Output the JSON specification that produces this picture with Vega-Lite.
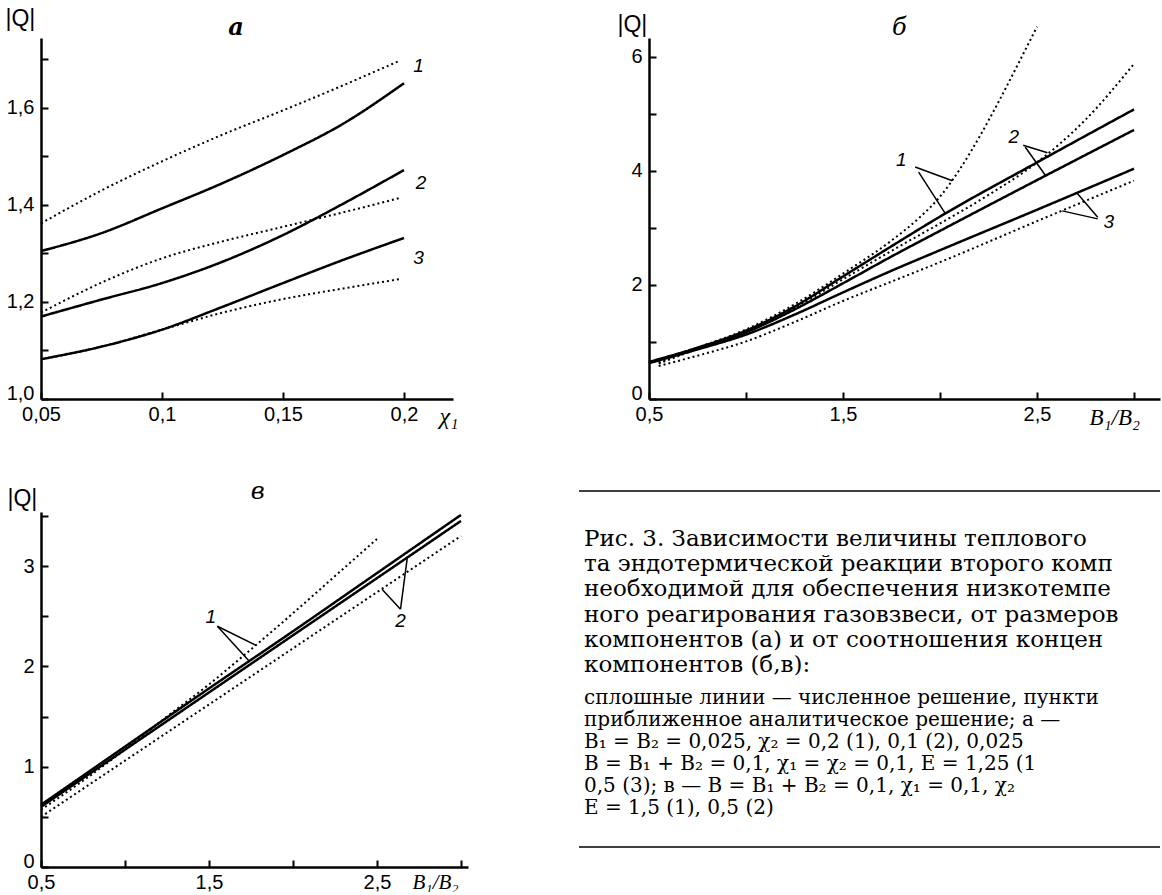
{
  "$schema": "https://vega.github.io/schema/vega-lite/v6.json",
  "autosize": {"type": "pad"},
  "padding": {"left": 5, "top": 7, "right": 0, "bottom": 0},
  "background": "white",
  "config": {
    "view": {"stroke": null},
    "axis": {
      "domainColor": "black", "domainWidth": 2.5, "tickColor": "black", "tickWidth": 2,
      "tickSize": -7, "labelPadding": 14, "labelFont": "Liberation Sans", "labelFontSize": 20,
      "labelColor": "black", "grid": false, "labelFlush": false, "labelOverlap": false, "labelBound": false,
      "titleColor": "black", "titleAngle": 0, "titleFontWeight": "normal"
    },
    "axisX": {"labelPadding": 12}
  },
  "datasets": {
    "curves_a": [
      {"id": "1s", "kind": "solid", "x": 0.05, "q": 1.305}, {"id": "1s", "kind": "solid", "x": 0.075, "q": 1.342}, {"id": "1s", "kind": "solid", "x": 0.1, "q": 1.393}, {"id": "1s", "kind": "solid", "x": 0.125, "q": 1.445}, {"id": "1s", "kind": "solid", "x": 0.15, "q": 1.503}, {"id": "1s", "kind": "solid", "x": 0.175, "q": 1.568}, {"id": "1s", "kind": "solid", "x": 0.2, "q": 1.651},
      {"id": "1d", "kind": "dotted", "x": 0.05, "q": 1.362}, {"id": "1d", "kind": "dotted", "x": 0.075, "q": 1.43}, {"id": "1d", "kind": "dotted", "x": 0.1, "q": 1.49}, {"id": "1d", "kind": "dotted", "x": 0.125, "q": 1.545}, {"id": "1d", "kind": "dotted", "x": 0.15, "q": 1.595}, {"id": "1d", "kind": "dotted", "x": 0.175, "q": 1.647}, {"id": "1d", "kind": "dotted", "x": 0.198, "q": 1.697},
      {"id": "2s", "kind": "solid", "x": 0.05, "q": 1.17}, {"id": "2s", "kind": "solid", "x": 0.075, "q": 1.205}, {"id": "2s", "kind": "solid", "x": 0.1, "q": 1.239}, {"id": "2s", "kind": "solid", "x": 0.125, "q": 1.283}, {"id": "2s", "kind": "solid", "x": 0.15, "q": 1.338}, {"id": "2s", "kind": "solid", "x": 0.175, "q": 1.403}, {"id": "2s", "kind": "solid", "x": 0.2, "q": 1.472},
      {"id": "2d", "kind": "dotted", "x": 0.05, "q": 1.178}, {"id": "2d", "kind": "dotted", "x": 0.075, "q": 1.24}, {"id": "2d", "kind": "dotted", "x": 0.1, "q": 1.29}, {"id": "2d", "kind": "dotted", "x": 0.125, "q": 1.325}, {"id": "2d", "kind": "dotted", "x": 0.15, "q": 1.355}, {"id": "2d", "kind": "dotted", "x": 0.175, "q": 1.385}, {"id": "2d", "kind": "dotted", "x": 0.198, "q": 1.414},
      {"id": "3s", "kind": "solid", "x": 0.05, "q": 1.082}, {"id": "3s", "kind": "solid", "x": 0.075, "q": 1.108}, {"id": "3s", "kind": "solid", "x": 0.1, "q": 1.143}, {"id": "3s", "kind": "solid", "x": 0.125, "q": 1.19}, {"id": "3s", "kind": "solid", "x": 0.15, "q": 1.239}, {"id": "3s", "kind": "solid", "x": 0.175, "q": 1.287}, {"id": "3s", "kind": "solid", "x": 0.2, "q": 1.332},
      {"id": "3d", "kind": "dotted", "x": 0.05, "q": 1.082}, {"id": "3d", "kind": "dotted", "x": 0.075, "q": 1.108}, {"id": "3d", "kind": "dotted", "x": 0.1, "q": 1.143}, {"id": "3d", "kind": "dotted", "x": 0.125, "q": 1.178}, {"id": "3d", "kind": "dotted", "x": 0.15, "q": 1.206}, {"id": "3d", "kind": "dotted", "x": 0.175, "q": 1.228}, {"id": "3d", "kind": "dotted", "x": 0.198, "q": 1.247}
    ],
    "labels_a": [
      {"x": 0.206, "q": 1.687, "t": "1"}, {"x": 0.207, "q": 1.445, "t": "2"}, {"x": 0.206, "q": 1.291, "t": "3"}
    ],
    "letter_a": [{"x": 0.1306, "q": 1.765, "t": "а"}],
    "curves_b": [
      {"id": "1s", "kind": "solid", "x": 0.5, "q": 0.65}, {"id": "1s", "kind": "solid", "x": 0.75, "q": 0.9}, {"id": "1s", "kind": "solid", "x": 1.0, "q": 1.2}, {"id": "1s", "kind": "solid", "x": 1.25, "q": 1.62}, {"id": "1s", "kind": "solid", "x": 1.5, "q": 2.15}, {"id": "1s", "kind": "solid", "x": 1.75, "q": 2.68}, {"id": "1s", "kind": "solid", "x": 2.0, "q": 3.2}, {"id": "1s", "kind": "solid", "x": 2.5, "q": 4.15}, {"id": "1s", "kind": "solid", "x": 3.0, "q": 5.08},
      {"id": "2s", "kind": "solid", "x": 0.5, "q": 0.64}, {"id": "2s", "kind": "solid", "x": 0.75, "q": 0.89}, {"id": "2s", "kind": "solid", "x": 1.0, "q": 1.17}, {"id": "2s", "kind": "solid", "x": 1.25, "q": 1.57}, {"id": "2s", "kind": "solid", "x": 1.5, "q": 2.03}, {"id": "2s", "kind": "solid", "x": 1.75, "q": 2.5}, {"id": "2s", "kind": "solid", "x": 2.0, "q": 2.95}, {"id": "2s", "kind": "solid", "x": 2.5, "q": 3.84}, {"id": "2s", "kind": "solid", "x": 3.0, "q": 4.72},
      {"id": "3s", "kind": "solid", "x": 0.5, "q": 0.63}, {"id": "3s", "kind": "solid", "x": 0.75, "q": 0.87}, {"id": "3s", "kind": "solid", "x": 1.0, "q": 1.13}, {"id": "3s", "kind": "solid", "x": 1.25, "q": 1.48}, {"id": "3s", "kind": "solid", "x": 1.5, "q": 1.87}, {"id": "3s", "kind": "solid", "x": 1.75, "q": 2.25}, {"id": "3s", "kind": "solid", "x": 2.0, "q": 2.61}, {"id": "3s", "kind": "solid", "x": 2.5, "q": 3.32}, {"id": "3s", "kind": "solid", "x": 3.0, "q": 4.04},
      {"id": "1d", "kind": "dotted", "x": 0.55, "q": 0.64}, {"id": "1d", "kind": "dotted", "x": 0.75, "q": 0.9}, {"id": "1d", "kind": "dotted", "x": 1.0, "q": 1.22}, {"id": "1d", "kind": "dotted", "x": 1.25, "q": 1.66}, {"id": "1d", "kind": "dotted", "x": 1.5, "q": 2.2}, {"id": "1d", "kind": "dotted", "x": 1.75, "q": 2.78}, {"id": "1d", "kind": "dotted", "x": 1.9, "q": 3.2}, {"id": "1d", "kind": "dotted", "x": 2.0, "q": 3.55}, {"id": "1d", "kind": "dotted", "x": 2.1, "q": 4.02}, {"id": "1d", "kind": "dotted", "x": 2.2, "q": 4.58}, {"id": "1d", "kind": "dotted", "x": 2.3, "q": 5.2}, {"id": "1d", "kind": "dotted", "x": 2.4, "q": 5.86}, {"id": "1d", "kind": "dotted", "x": 2.5, "q": 6.53},
      {"id": "2d", "kind": "dotted", "x": 0.55, "q": 0.62}, {"id": "2d", "kind": "dotted", "x": 0.75, "q": 0.88}, {"id": "2d", "kind": "dotted", "x": 1.0, "q": 1.19}, {"id": "2d", "kind": "dotted", "x": 1.25, "q": 1.6}, {"id": "2d", "kind": "dotted", "x": 1.5, "q": 2.1}, {"id": "2d", "kind": "dotted", "x": 1.75, "q": 2.6}, {"id": "2d", "kind": "dotted", "x": 2.0, "q": 3.08}, {"id": "2d", "kind": "dotted", "x": 2.25, "q": 3.58}, {"id": "2d", "kind": "dotted", "x": 2.5, "q": 4.15}, {"id": "2d", "kind": "dotted", "x": 2.75, "q": 4.9}, {"id": "2d", "kind": "dotted", "x": 3.0, "q": 5.88},
      {"id": "3d", "kind": "dotted", "x": 0.55, "q": 0.58}, {"id": "3d", "kind": "dotted", "x": 0.75, "q": 0.76}, {"id": "3d", "kind": "dotted", "x": 1.0, "q": 1.01}, {"id": "3d", "kind": "dotted", "x": 1.25, "q": 1.35}, {"id": "3d", "kind": "dotted", "x": 1.5, "q": 1.72}, {"id": "3d", "kind": "dotted", "x": 1.75, "q": 2.06}, {"id": "3d", "kind": "dotted", "x": 2.0, "q": 2.4}, {"id": "3d", "kind": "dotted", "x": 2.5, "q": 3.12}, {"id": "3d", "kind": "dotted", "x": 3.0, "q": 3.83}
    ],
    "labels_b": [
      {"x": 1.8, "q": 4.19, "t": "1"}, {"x": 2.38, "q": 4.6, "t": "2"}, {"x": 2.87, "q": 3.1, "t": "3"}
    ],
    "letter_b": [{"x": 1.79, "q": 6.5, "t": "б"}],
    "leaders_b": [
      {"x": 1.872, "q": 4.07, "x2": 2.064, "q2": 3.83},
      {"x": 1.89, "q": 3.98, "x2": 2.026, "q2": 3.26},
      {"x": 2.429, "q": 4.45, "x2": 2.554, "q2": 4.32},
      {"x": 2.439, "q": 4.42, "x2": 2.544, "q2": 3.92},
      {"x": 2.813, "q": 3.19, "x2": 2.707, "q2": 3.61},
      {"x": 2.813, "q": 3.16, "x2": 2.63, "q2": 3.3}
    ],
    "curves_c": [
      {"id": "1s", "kind": "solid", "x": 0.5, "q": 0.62}, {"id": "1s", "kind": "solid", "x": 1.0, "q": 1.2}, {"id": "1s", "kind": "solid", "x": 1.5, "q": 1.78}, {"id": "1s", "kind": "solid", "x": 2.0, "q": 2.35}, {"id": "1s", "kind": "solid", "x": 2.5, "q": 2.93}, {"id": "1s", "kind": "solid", "x": 3.0, "q": 3.51},
      {"id": "2s", "kind": "solid", "x": 0.5, "q": 0.6}, {"id": "2s", "kind": "solid", "x": 1.0, "q": 1.17}, {"id": "2s", "kind": "solid", "x": 1.5, "q": 1.74}, {"id": "2s", "kind": "solid", "x": 2.0, "q": 2.31}, {"id": "2s", "kind": "solid", "x": 2.5, "q": 2.88}, {"id": "2s", "kind": "solid", "x": 3.0, "q": 3.45},
      {"id": "1d", "kind": "dotted", "x": 0.5, "q": 0.57}, {"id": "1d", "kind": "dotted", "x": 0.75, "q": 0.86}, {"id": "1d", "kind": "dotted", "x": 1.0, "q": 1.17}, {"id": "1d", "kind": "dotted", "x": 1.25, "q": 1.5}, {"id": "1d", "kind": "dotted", "x": 1.5, "q": 1.82}, {"id": "1d", "kind": "dotted", "x": 1.75, "q": 2.17}, {"id": "1d", "kind": "dotted", "x": 2.0, "q": 2.53}, {"id": "1d", "kind": "dotted", "x": 2.25, "q": 2.9}, {"id": "1d", "kind": "dotted", "x": 2.5, "q": 3.27},
      {"id": "2d", "kind": "dotted", "x": 0.5, "q": 0.5}, {"id": "2d", "kind": "dotted", "x": 1.0, "q": 1.06}, {"id": "2d", "kind": "dotted", "x": 1.5, "q": 1.62}, {"id": "2d", "kind": "dotted", "x": 2.0, "q": 2.18}, {"id": "2d", "kind": "dotted", "x": 2.5, "q": 2.74}, {"id": "2d", "kind": "dotted", "x": 3.0, "q": 3.3}
    ],
    "labels_c": [
      {"x": 1.51, "q": 2.49, "t": "1"}, {"x": 2.64, "q": 2.45, "t": "2"}
    ],
    "letter_c": [{"x": 1.79, "q": 3.74, "t": "в"}],
    "leaders_c": [
      {"x": 1.55, "q": 2.4, "x2": 1.78, "q2": 2.21},
      {"x": 1.55, "q": 2.4, "x2": 1.74, "q2": 2.05},
      {"x": 2.64, "q": 2.57, "x2": 2.53, "q2": 2.77},
      {"x": 2.64, "q": 2.57, "x2": 2.68, "q2": 3.08}
    ],
    "caption_big": [
      {"line": 1, "text": "Рис. 3. Зависимости величины теплового"},
      {"line": 2, "text": "та эндотермической реакции второго комп"},
      {"line": 3, "text": "необходимой для обеспечения низкотемпе"},
      {"line": 4, "text": "ного реагирования газовзвеси, от размеров"},
      {"line": 5, "text": "компонентов (а) и от соотношения концен"},
      {"line": 6, "text": "компонентов (б,в):"}
    ],
    "caption_small": [
      {"line": 7, "text": "сплошные линии — численное решение, пункти"},
      {"line": 8, "text": "приближенное аналитическое решение; а —"},
      {"line": 9, "text": "B₁ = B₂ = 0,025, χ₂ = 0,2 (1), 0,1 (2), 0,025"},
      {"line": 10, "text": "B = B₁ + B₂ = 0,1, χ₁ = χ₂ = 0,1, E = 1,25 (1"},
      {"line": 11, "text": "0,5 (3); в — B = B₁ + B₂ = 0,1, χ₁ = 0,1, χ₂"},
      {"line": 12, "text": "E = 1,5 (1), 0,5 (2)"}
    ],
    "caption_rules": [{"pos": 0}, {"pos": 1}]
  },
  "spacing": 50,
  "vconcat": [
    {
      "spacing": 196,
      "bounds": "flush",
      "hconcat": [
        {
          "width": 412, "height": 361,
          "layer": [
            {
              "data": {"name": "curves_a"},
              "mark": {"type": "line", "interpolate": "monotone", "color": "black"},
              "encoding": {
                "x": {"field": "x", "type": "quantitative", "scale": {"domain": [0.05, 0.22025], "nice": false, "zero": false},
                  "axis": {"values": [0.05, 0.1, 0.15, 0.2], "labelExpr": "replace(format(datum.value, '.2~f'), '.', ',')",
                    "title": "χ₁", "titleX": 398, "titleY": 17, "titleAlign": "left", "titleBaseline": "middle", "titleFont": "Liberation Serif", "titleFontStyle": "italic", "titleFontSize": 24}},
                "y": {"field": "q", "type": "quantitative", "scale": {"domain": [1.0, 1.7443], "nice": false, "zero": false},
                  "axis": {"values": [1.0, 1.1, 1.2, 1.3, 1.4, 1.5, 1.6, 1.7], "labelExpr": "round(datum.value * 10) % 2 == 0 ? replace(format(datum.value, '.1f'), '.', ',') : ''",
                    "labelBaseline": {"condition": {"test": "datum.value == 1", "value": "alphabetic"}, "value": "middle"},
                    "title": "|Q|", "titleX": -36, "titleY": -20, "titleAlign": "left", "titleBaseline": "middle", "titleFont": "Liberation Sans", "titleFontSize": 23}},
                "detail": {"field": "id"},
                "strokeDash": {"field": "kind", "type": "nominal", "scale": {"domain": ["solid", "dotted"], "range": [[1, 0], [2, 3]]}, "legend": null},
                "strokeWidth": {"field": "kind", "type": "nominal", "scale": {"domain": ["solid", "dotted"], "range": [2.5, 2]}, "legend": null}
              }
            },
            {
              "data": {"name": "labels_a"},
              "mark": {"type": "text", "font": "Liberation Sans", "fontStyle": "italic", "fontSize": 19, "color": "black"},
              "encoding": {
                "x": {"field": "x", "type": "quantitative"},
                "y": {"field": "q", "type": "quantitative"},
                "text": {"field": "t"}
              }
            },
            {
              "data": {"name": "letter_a"},
              "mark": {"type": "text", "font": "DejaVu Serif", "fontStyle": "italic", "fontWeight": "bold", "fontSize": 24, "color": "black"},
              "encoding": {
                "x": {"field": "x", "type": "quantitative"},
                "y": {"field": "q", "type": "quantitative"},
                "text": {"field": "t"}
              }
            }
          ]
        },
        {
          "width": 511, "height": 361,
          "layer": [
            {
              "data": {"name": "curves_b"},
              "mark": {"type": "line", "interpolate": "monotone", "color": "black"},
              "encoding": {
                "x": {"field": "x", "type": "quantitative", "scale": {"domain": [0.5, 3.134], "nice": false, "zero": false},
                  "axis": {"values": [0.5, 1, 1.5, 2, 2.5, 3], "labelExpr": "datum.value % 1 == 0.5 ? replace(format(datum.value, '.1f'), '.', ',') : ''",
                    "title": "B₁/B₂", "titleX": 440, "titleY": 18, "titleAlign": "left", "titleBaseline": "middle", "titleFont": "Liberation Serif", "titleFontStyle": "italic", "titleFontSize": 23}},
                "y": {"field": "q", "type": "quantitative", "scale": {"domain": [0, 6.333], "nice": false, "zero": false},
                  "axis": {"values": [0, 1, 2, 3, 4, 5, 6], "labelExpr": "datum.value % 2 == 0 ? format(datum.value, 'd') : ''",
                    "labelBaseline": {"condition": {"test": "datum.value == 0", "value": "alphabetic"}, "value": "middle"},
                    "title": "|Q|", "titleX": -32, "titleY": -14, "titleAlign": "left", "titleBaseline": "middle", "titleFont": "Liberation Sans", "titleFontSize": 23}},
                "detail": {"field": "id"},
                "strokeDash": {"field": "kind", "type": "nominal", "scale": {"domain": ["solid", "dotted"], "range": [[1, 0], [2, 3]]}, "legend": null},
                "strokeWidth": {"field": "kind", "type": "nominal", "scale": {"domain": ["solid", "dotted"], "range": [2.5, 2]}, "legend": null}
              }
            },
            {
              "data": {"name": "leaders_b"},
              "mark": {"type": "rule", "color": "black", "strokeWidth": 1.5},
              "encoding": {
                "x": {"field": "x", "type": "quantitative"},
                "y": {"field": "q", "type": "quantitative"},
                "x2": {"field": "x2"},
                "y2": {"field": "q2"}
              }
            },
            {
              "data": {"name": "labels_b"},
              "mark": {"type": "text", "font": "Liberation Sans", "fontStyle": "italic", "fontSize": 19, "color": "black"},
              "encoding": {
                "x": {"field": "x", "type": "quantitative"},
                "y": {"field": "q", "type": "quantitative"},
                "text": {"field": "t"}
              }
            },
            {
              "data": {"name": "letter_b"},
              "mark": {"type": "text", "font": "DejaVu Serif", "fontStyle": "italic", "fontSize": 24, "color": "black"},
              "encoding": {
                "x": {"field": "x", "type": "quantitative"},
                "y": {"field": "q", "type": "quantitative"},
                "text": {"field": "t"}
              }
            }
          ]
        }
      ]
    },
    {
      "spacing": 111,
      "bounds": "flush",
      "hconcat": [
        {
          "width": 427, "height": 355,
          "layer": [
            {
              "data": {"name": "curves_c"},
              "mark": {"type": "line", "interpolate": "monotone", "color": "black"},
              "encoding": {
                "x": {"field": "x", "type": "quantitative", "scale": {"domain": [0.5, 3.0417], "nice": false, "zero": false},
                  "axis": {"values": [0.5, 1, 1.5, 2, 2.5, 3], "labelExpr": "datum.value % 1 == 0.5 ? replace(format(datum.value, '.1f'), '.', ',') : ''",
                    "title": "B₁/B₂", "titleX": 371, "titleY": 15, "titleAlign": "left", "titleBaseline": "middle", "titleFont": "Liberation Serif", "titleFontStyle": "italic", "titleFontSize": 21}},
                "y": {"field": "q", "type": "quantitative", "scale": {"domain": [0, 3.539], "nice": false, "zero": false},
                  "axis": {"values": [0, 0.5, 1, 1.5, 2, 2.5, 3, 3.5], "labelExpr": "datum.value % 1 == 0 ? format(datum.value, 'd') : ''",
                    "labelBaseline": {"condition": {"test": "datum.value == 0", "value": "alphabetic"}, "value": "middle"},
                    "title": "|Q|", "titleX": -34, "titleY": -14, "titleAlign": "left", "titleBaseline": "middle", "titleFont": "Liberation Sans", "titleFontSize": 23}},
                "detail": {"field": "id"},
                "strokeDash": {"field": "kind", "type": "nominal", "scale": {"domain": ["solid", "dotted"], "range": [[1, 0], [2, 3]]}, "legend": null},
                "strokeWidth": {"field": "kind", "type": "nominal", "scale": {"domain": ["solid", "dotted"], "range": [2.5, 2]}, "legend": null}
              }
            },
            {
              "data": {"name": "leaders_c"},
              "mark": {"type": "rule", "color": "black", "strokeWidth": 1.5},
              "encoding": {
                "x": {"field": "x", "type": "quantitative"},
                "y": {"field": "q", "type": "quantitative"},
                "x2": {"field": "x2"},
                "y2": {"field": "q2"}
              }
            },
            {
              "data": {"name": "labels_c"},
              "mark": {"type": "text", "font": "Liberation Sans", "fontStyle": "italic", "fontSize": 19, "color": "black"},
              "encoding": {
                "x": {"field": "x", "type": "quantitative"},
                "y": {"field": "q", "type": "quantitative"},
                "text": {"field": "t"}
              }
            },
            {
              "data": {"name": "letter_c"},
              "mark": {"type": "text", "font": "DejaVu Serif", "fontStyle": "italic", "fontSize": 24, "color": "black"},
              "encoding": {
                "x": {"field": "x", "type": "quantitative"},
                "y": {"field": "q", "type": "quantitative"},
                "text": {"field": "t"}
              }
            }
          ]
        },
        {
          "width": 581, "height": 355,
          "layer": [
            {
              "data": {"name": "caption_big"},
              "mark": {"type": "text", "align": "left", "baseline": "middle", "font": "DejaVu Serif", "fontSize": 23, "color": "black", "dx": 5, "clip": true},
              "encoding": {
                "x": {"datum": 0, "type": "quantitative", "scale": {"domain": [0, 1], "nice": false}, "axis": null},
                "y": {"field": "line", "type": "quantitative", "scale": {"domain": [-0.0714, 14.016], "reverse": true, "nice": false, "zero": false}, "axis": null},
                "text": {"field": "text"}
              }
            },
            {
              "data": {"name": "caption_small"},
              "mark": {"type": "text", "align": "left", "baseline": "middle", "font": "DejaVu Serif", "fontSize": 20, "color": "black", "dx": 5, "clip": true},
              "encoding": {
                "x": {"datum": 0, "type": "quantitative"},
                "y": {"field": "line", "type": "quantitative", "scale": {"domain": [-1.4545, 14.682], "reverse": true, "nice": false, "zero": false}, "axis": null},
                "text": {"field": "text"}
              }
            },
            {
              "data": {"name": "caption_rules"},
              "mark": {"type": "rule", "color": "black", "strokeWidth": 1.5},
              "encoding": {
                "y": {"field": "pos", "type": "quantitative", "scale": {"domain": [0.059, 1.0562], "reverse": true, "nice": false, "zero": false}, "axis": null}
              }
            }
          ],
          "resolve": {"scale": {"y": "independent"}}
        }
      ]
    }
  ]
}
